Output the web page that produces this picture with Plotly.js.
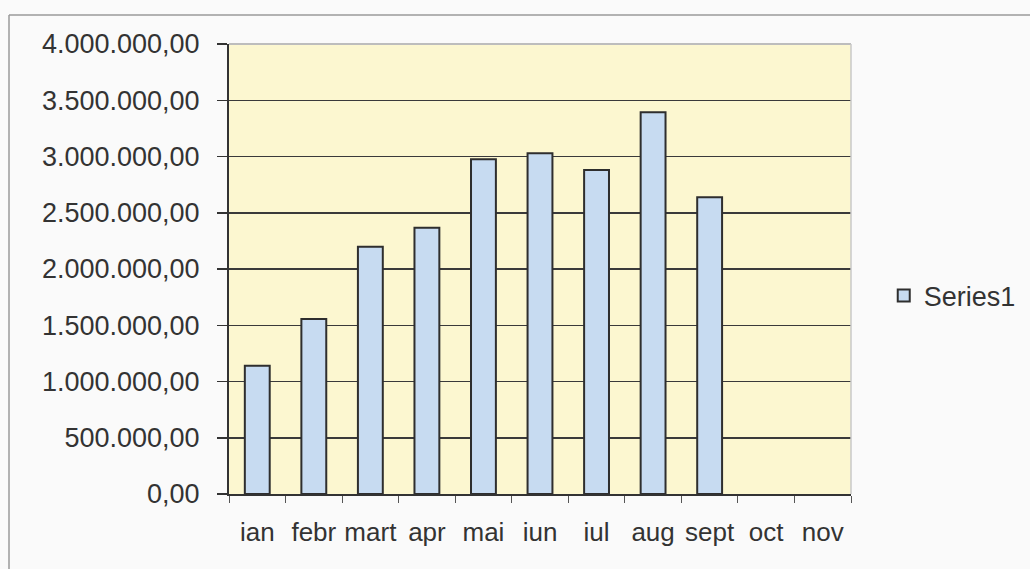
<!DOCTYPE html>
<html>
<head>
<meta charset="utf-8">
<script src="https://cdn.plot.ly/plotly-3.0.1.min.js"></script>
<style>
html,body{margin:0;padding:0;background:#fafafa;}
#chart{width:1030px;height:569px;}
</style>
</head>
<body>
<div id="chart"></div>
<script>
const months = ["ian","febr","mart","apr","mai","iun","iul","aug","sept","oct","nov"];
const series1 = [1140000,1555000,2198000,2367000,2975000,3028000,2880000,3393000,2637000,null,null];
const yTicks = [0,500000,1000000,1500000,2000000,2500000,3000000,3500000,4000000];

const trace = {
  type: "bar",
  name: "Series1",
  x: months,
  y: series1,
  marker: {color: "#c7dbf1", line: {color: "#2e2e2e", width: 2}},
  hoverinfo: "x+y"
};

const layout = {
  width: 1030, height: 569,
  margin: {l: 229, r: 179, t: 44, b: 75},
  paper_bgcolor: "#fafafa",
  plot_bgcolor: "#fcf7d0",
  separators: ",.",
  font: {family: "Liberation Sans, Arial, sans-serif", size: 27, color: "#333"},
  bargap: 0.56,
  showlegend: true,
  legend: {xref: "container", yref: "container", x: 0.858, xanchor: "left", y: 0.48, yanchor: "middle",
           bgcolor: "rgba(0,0,0,0)", font: {size: 27, color: "#333"}, itemwidth: 30, tracegroupgap: 0},
  xaxis: {
    type: "category",
    tickson: "boundaries",
    tickangle: 0,
    ticks: "outside", ticklen: 7, tickcolor: "#555", tickwidth: 1,
    showline: true, linecolor: "#333", linewidth: 2,
    showgrid: false,
    ticklabelstandoff: 14,
    tickfont: {size: 26, color: "#333"}
  },
  yaxis: {
    range: [0, 4000000],
    tickvals: yTicks,
    tickformat: ",.2f",
    ticks: "outside", ticklen: 10, tickcolor: "#333", tickwidth: 1.5,
    showline: true, linecolor: "#333", linewidth: 2,
    showgrid: true, gridcolor: "#3a3a3a", gridwidth: 1.5,
    zeroline: false,
    ticklabelstandoff: 12,
    tickfont: {size: 27, color: "#333"}
  },
  shapes: [
    {type: "line", xref: "paper", yref: "paper", x0: 0, x1: 1, y0: 1, y1: 1, line: {color: "#bdbdbd", width: 2}, layer: "above"},
    {type: "line", xref: "paper", yref: "paper", x0: 1, x1: 1, y0: 0, y1: 1, line: {color: "#c8c8c8", width: 1.5}, layer: "above"},
    {type: "line", xref: "paper", yref: "paper", x0: -0.3537, x1: 1.29, y0: 1.0644, y1: 1.0644, line: {color: "#9a9a9a", width: 1.5}},
    {type: "line", xref: "paper", yref: "paper", x0: -0.3537, x1: -0.3537, y0: 1.0644, y1: -0.17, line: {color: "#9a9a9a", width: 1.5}}
  ]
};

Plotly.newPlot("chart", [trace], layout, {displayModeBar: false, staticPlot: true});
</script>
</body>
</html>
